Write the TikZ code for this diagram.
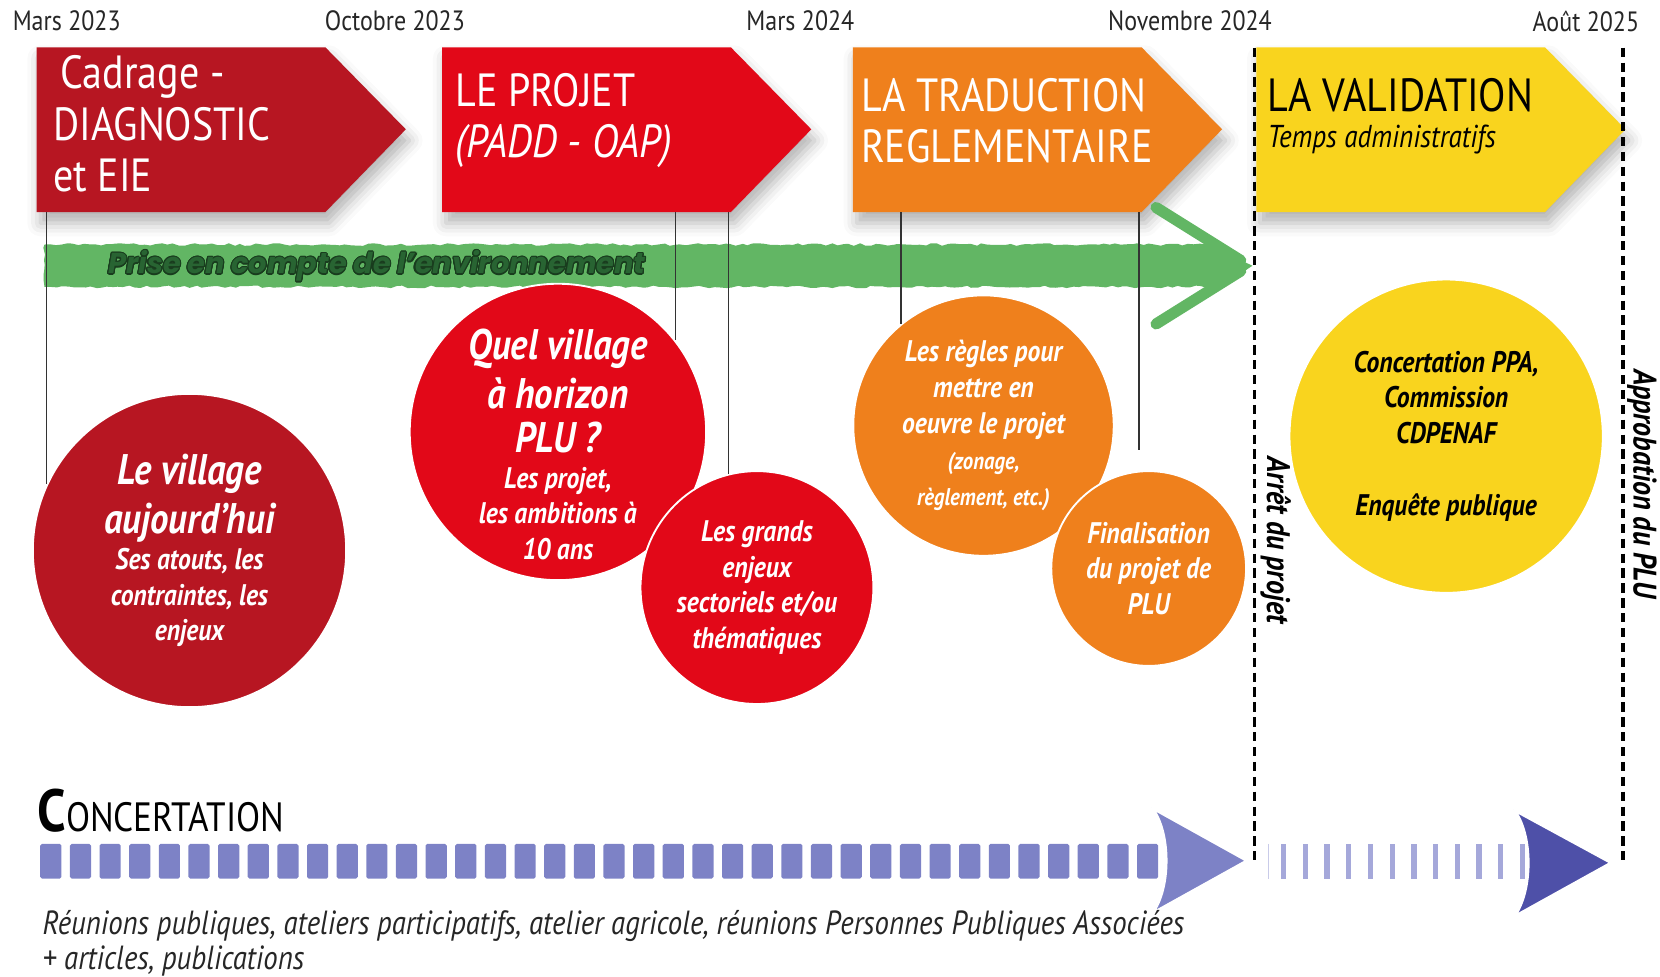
\documentclass[tikz,border=0pt]{standalone}
\usepackage{fontspec}
\setmainfont{PT Sans}[FakeStretch=0.86]
\newfontfamily\envfont{Poppins}
\usepackage[copies]{contour}
\usetikzlibrary{positioning,backgrounds,decorations.pathmorphing,shadows.blur}
\definecolor{pdred}{RGB}{183,22,34}
\definecolor{pred}{RGB}{226,8,24}
\definecolor{porange}{RGB}{239,128,28}
\definecolor{pyellow}{RGB}{249,212,30}
\definecolor{envgreen}{RGB}{98,182,100}
\definecolor{envdark}{RGB}{25,60,30}
\definecolor{envtext}{RGB}{40,100,50}
\definecolor{cblue}{RGB}{125,130,198}
\definecolor{cbluelt}{RGB}{165,168,218}
\definecolor{cbluedk}{RGB}{78,80,168}
\contourlength{0.6pt}
\tikzset{
  phasebody/.style={minimum width=5.44cm,minimum height=3.1cm,inner sep=0pt},
  phtext/.style={anchor=west,align=left,inner sep=0pt,text=white,font=\fontsize{25}{27.5}\selectfont},
  chevshadow/.style={blur shadow={shadow xshift=2pt,shadow yshift=-6pt,shadow blur radius=7pt,shadow opacity=30}},
  bubble/.style={circle,fill=#1,draw=white,line width=1pt,align=center,inner sep=0pt,text=white,
    font=\bfseries\itshape\fontsize{16}{19.3}\selectfont},
  datelabel/.style={text=black!85,font=\fontsize{15}{18}\selectfont},
  stemline/.style={black!80,line width=0.7pt},
  milestone/.style={black,line width=1.8pt,dash pattern=on 5pt off 3pt},
  vlabel/.style={rotate=-90,font=\bfseries\itshape\fontsize{17.5}{20}\selectfont},
  envlabel/.style={text=envtext,font=\envfont\bfseries\itshape\fontsize{15.5}{18}\selectfont},
}
\newcommand{\bigline}[1]{{\fontsize{23}{25}\selectfont #1}}
\newcommand{\smallline}[1]{{\fontsize{13}{16}\selectfont #1}}
% arrow-shaped phase band behind a body node
\newcommand{\chevronfill}[2]{\begin{scope}[on background layer]
  \fill[#2,chevshadow] (#1.north west) -- (#1.north east) -- ++(76,77.5) -- (#1.south east) -- (#1.south west) -- cycle;
\end{scope}}

\begin{document}
\begin{tikzpicture}[x=0.02cm,y=-0.02cm]
  \useasboundingbox (0,0) rectangle (1568,922);
  % dates
  \node[datelabel] (d1) at (63,20) {Mars 2023};
  \node[datelabel] (d2) at (373,20) {Octobre 2023};
  \node[datelabel] (d3) at (756,20) {Mars 2024};
  \node[datelabel] (d4) at (1124,20) {Novembre 2024};
  \node[datelabel] (d5) at (1498,20) {Août 2025};
  % phases
  \node[phasebody] (ch1) at (171,122.5) {};
  \node[phasebody] (ch2) at (554,122.5) {};
  \node[phasebody] (ch3) at (942,122.5) {};
  \node[phasebody] (ch4) at (1323,122.5) {};
  \chevronfill{ch1}{pdred}
  \chevronfill{ch2}{pred}
  \chevronfill{ch3}{porange}
  \chevronfill{ch4}{pyellow}
  \node[phtext] (t1) at (50,117) {\hspace{4pt}Cadrage -\\DIAGNOSTIC\\et EIE};
  \node[phtext] (t2) at (430,114) {LE PROJET\\\textit{(PADD - OAP)}};
  \node[phtext] (t3) at (813,114) {LA TRADUCTION\\REGLEMENTAIRE};
  \node[phtext,text=black] (t4) at (1197,110) {LA VALIDATION\\[-8pt]{\fontsize{17}{20}\selectfont\itshape Temps administratifs}};
  % environment arrow
  \pgfmathsetseed{7}
  \fill[envgreen,decorate,decoration={random steps,segment length=3pt,amplitude=0.7pt}]
    (42,231) -- (1150,231) -- (1183,251) -- (1150,271) -- (42,271) -- cycle;
  \draw[envgreen,line width=6pt,line cap=round] (1092,196) -- (1172,246);
  \draw[envgreen,line width=6pt,line cap=round] (1092,306) -- (1172,256);
  \node[envlabel] (env) at (356,252) {\contour{envdark}{Prise en compte de l’environnement}};
  % bubbles
  \node[bubble=pdred,minimum size=5.92cm] (c1) at (179,520)
    {\bigline{Le village}\\[4pt]\bigline{aujourd’hui}\\Ses atouts, les\\contraintes, les\\enjeux};
  \node[bubble=pred,minimum size=5.6cm,inner sep=-14pt] (c2) at (527,408)
    {\rule{0pt}{30pt}\bigline{Quel village}\\[4pt]\bigline{à horizon}\\[4pt]\bigline{PLU ?}\\Les projet,\\les ambitions à\\10 ans};
  \node[bubble=pred,minimum size=4.4cm] (c3) at (715,555)
    {Les grands\\enjeux\\sectoriels et/ou\\thématiques};
  \node[bubble=porange,minimum size=4.92cm] (c4) at (929,402)
    {Les règles pour\\mettre en\\oeuvre le projet\\\smallline{(zonage,}\\\smallline{règlement, etc.)}};
  \node[bubble=porange,minimum size=3.68cm] (c5) at (1085,537)
    {Finalisation\\du projet de\\PLU};
  \node[bubble=pyellow,text=black,minimum size=5.92cm] (c6) at (1366,412)
    {Concertation PPA,\\Commission\\CDPENAF\\[19.3pt]Enquête publique};
  % stems from the phases down to the bubbles
  \coordinate (f5) at (1076,425);
  \draw[stemline] (c1.155 |- ch1.south) -- (c1.155);
  \draw[stemline] (c2.38 |- ch2.south) -- (c2.38);
  \draw[stemline] (c3.104 |- ch2.south) -- (c3.104);
  \draw[stemline] (c4.129 |- ch3.south) -- (c4.129);
  \draw[stemline] (f5 |- ch3.south) -- (f5);
  % milestones
  \coordinate (m1a) at (1185,45); \coordinate (m1b) at (1185,815);
  \coordinate (m2a) at (1533,45); \coordinate (m2b) at (1533,815);
  \draw[milestone] (m1a) -- (m1b);
  \draw[milestone] (m2a) -- (m2b);
  \node[vlabel] (l1) at (1205,510) {Arrêt du projet};
  \node[vlabel] (l2) at (1551,457) {Approbation du PLU};
  % concertation
  \node[anchor=base west,inner sep=0pt] (ct) at (35,785)
    {{\fontsize{32}{32}\selectfont\bfseries C}{\fontsize{22}{26}\selectfont ONCERTATION}};
  \foreach \i in {0,...,37}
    \fill[cblue,rounded corners=1pt] (38+28*\i,797) rectangle ++(20,33);
  \fill[cblue,draw=white,line width=1.5pt] (1088,763) -- (1178,813) -- (1088,863)
    .. controls (1106,840) and (1106,786) .. (1088,763);
  \draw[cbluelt!60,line width=0.5pt] (1198,797) -- (1198,830);
  \foreach \i in {0,...,11}
    \fill[cbluelt] (1210+20.5*\i,797) rectangle ++(5,33);
  \fill[cbluedk,draw=white,line width=1.5pt] (1430,765) -- (1522,815) -- (1430,866)
    .. controls (1448,842) and (1448,788) .. (1430,765);
  \node[anchor=west,align=left,inner sep=0pt,text=black!85,font=\itshape\fontsize{18}{19}\selectfont] (notes) at (40,891)
    {Réunions publiques, ateliers participatifs, atelier agricole, réunions Personnes Publiques Associées\\+ articles, publications};
\end{tikzpicture}
\end{document}
